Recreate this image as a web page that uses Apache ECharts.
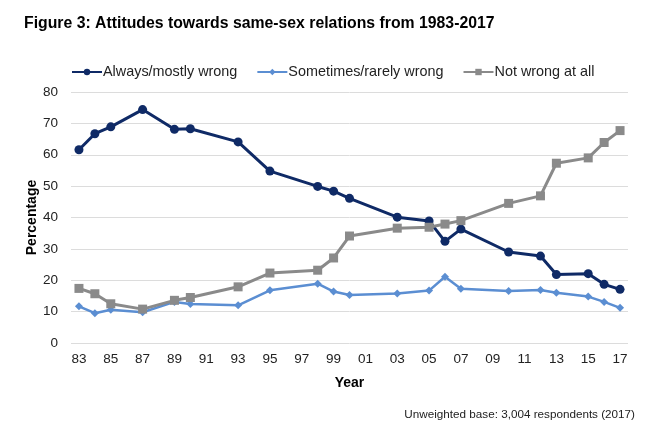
<!DOCTYPE html>
<html>
<head>
<meta charset="utf-8">
<script src="https://cdn.jsdelivr.net/npm/echarts@6/dist/echarts.min.js"></script>
<style>
html,body{margin:0;padding:0;background:#fff;}
#c{width:650px;height:431px;}
</style>
</head>
<body>
<div id="c"></div>
<script>
var allYears = [];
for (var y = 1983; y <= 2017; y++) allYears.push(String(y));
var years = ['1983','1984','1985','1987','1989','1990','1993','1995','1998','1999','2000','2003','2005','2006','2007','2010','2012','2013','2015','2016','2017'];
var alwaysWrong = [61.6,66.7,68.9,74.4,68.1,68.3,64.1,54.8,49.9,48.4,46.1,40.1,38.9,32.4,36.3,29.0,27.7,21.8,22.1,18.7,17.1];
var sometimesWrong = [11.7,9.5,10.6,9.8,13.1,12.4,12.0,16.8,18.9,16.4,15.3,15.8,16.7,21.1,17.3,16.6,16.9,16.0,14.8,13.1,11.2];
var notWrong = [17.4,15.7,12.5,10.8,13.6,14.5,17.9,22.3,23.2,27.1,34.1,36.6,36.9,37.9,39.0,44.5,46.9,57.3,59.0,63.9,67.7];
var seriesNames = ['Always/mostly wrong','Sometimes/rarely wrong','Not wrong at all'];

function pairs(vals){ return years.map(function(y,i){ return [y, vals[i]]; }); }

var chart = echarts.init(document.getElementById('c'));
chart.setOption({
  animation:false,
  textStyle:{fontFamily:'Liberation Sans, Arial, sans-serif'},
  title:[{
    text:'Figure 3: Attitudes towards same-sex relations from 1983-2017',
    left:19, top:11,
    textStyle:{fontSize:15.8,fontWeight:'bold',color:'#000',fontFamily:'Liberation Sans, Arial, sans-serif'}
  },{
    text:'Unweighted base: 3,004 respondents (2017)',
    right:10, top:404,
    textStyle:{fontSize:11.7,fontWeight:'normal',color:'#222',fontFamily:'Liberation Sans, Arial, sans-serif'}
  }],
  legend:{
    top:60, left:66, itemGap:19, itemWidth:30, itemHeight:8,
    textStyle:{fontSize:14.4,color:'#222',fontFamily:'Liberation Sans, Arial, sans-serif', padding:[0,0,0,-4]},
    data:seriesNames
  },
  grid:{left:71,right:22,top:92,bottom:88},
  xAxis:{
    type:'category', data:allYears, boundaryGap:true,
    name:'Year', nameLocation:'middle', nameGap:33,
    nameTextStyle:{fontSize:14,fontWeight:'bold',color:'#000'},
    axisLine:{show:false}, axisTick:{show:false},
    axisLabel:{interval:1,fontSize:13.5,color:'#222',margin:9,formatter:function(v){return v.slice(2);}}
  },
  yAxis:{
    type:'value', min:0, max:80, interval:10,
    name:'Percentage', nameLocation:'middle', nameGap:32, nameRotate:90, nameMoveOverlap:false,
    nameTextStyle:{fontSize:14,fontWeight:'bold',color:'#000'},
    axisLine:{show:false}, axisTick:{show:false},
    axisLabel:{fontSize:13.5,color:'#222',margin:13},
    splitLine:{lineStyle:{color:'#dcdcdc',width:1}}
  },
  series:[{
    name:seriesNames[0], type:'line', data:pairs(alwaysWrong),
    symbol:'circle', symbolSize:9,
    lineStyle:{color:'#0f2a66',width:3},
    itemStyle:{color:'#0f2a66'}
  },{
    name:seriesNames[1], type:'line', data:pairs(sometimesWrong),
    symbol:'diamond', symbolSize:8,
    lineStyle:{color:'#5b8ed2',width:2.5},
    itemStyle:{color:'#5b8ed2'}
  },{
    name:seriesNames[2], type:'line', data:pairs(notWrong),
    symbol:'rect', symbolSize:9,
    lineStyle:{color:'#8a8a8a',width:3},
    itemStyle:{color:'#8a8a8a'}
  }]
});
</script>
</body>
</html>
